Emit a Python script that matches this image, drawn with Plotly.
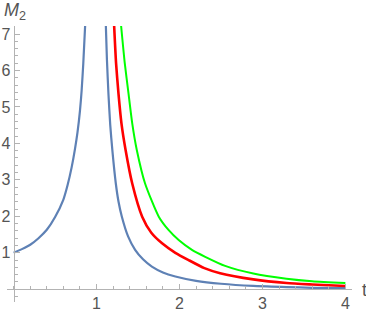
import plotly.graph_objects as go

# values
blue_t = [0.0, 0.1, 0.2, 0.3, 0.4, 0.5, 0.6, 0.65, 0.7, 0.74, 0.77, 0.8, 0.82, 0.84, 0.862, None,
          1.112, 1.125, 1.143, 1.165, 1.19, 1.232, 1.265, 1.305, 1.38, 1.465, 1.56, 1.667, 1.8, 1.95, 2.2, 2.5, 2.89, 3.29, 3.6, 4.0]
blue_m = [1.0, 1.1, 1.22, 1.4, 1.63, 1.98, 2.46, 2.85, 3.35, 3.85, 4.3, 4.9, 5.45, 6.2, 7.22, None,
          7.22, 6.3, 5.37, 4.5, 3.82, 2.9, 2.4, 1.99, 1.45, 1.08, 0.82, 0.62, 0.46, 0.35, 0.23, 0.15, 0.09, 0.06, 0.04, 0.03]

red_t = [1.212, 1.235, 1.264, 1.3, 1.35, 1.43, 1.55, 1.66, 1.79, 1.95, 2.11, 2.3, 2.49, 2.89, 3.29, 3.6, 4.0]
red_m = [7.22, 6.2, 5.37, 4.55, 3.82, 2.9, 1.99, 1.55, 1.26, 1.0, 0.8, 0.58, 0.44, 0.27, 0.17, 0.13, 0.09]

green_t = [1.296, 1.34, 1.385, 1.43, 1.485, 1.585, 1.75, 1.87, 1.99, 2.15, 2.31, 2.55, 2.89, 3.29, 3.6, 4.0]
green_m = [7.22, 6.2, 5.37, 4.55, 3.82, 2.9, 1.99, 1.62, 1.35, 1.08, 0.89, 0.64, 0.43, 0.29, 0.22, 0.17]

x_ticks = [1, 2, 3, 4]
y_ticks = [1, 2, 3, 4, 5, 6, 7]

x_range = [-0.08, 4.08]
y_range = [-0.35, 7.22]

axis_col = "#b3b3b3"
text_col = "#555555"
font = "Liberation Sans"

fig = go.Figure()
for xs, ys, col, w in [(blue_t, blue_m, "#5e81b5", 2.2),
                       (red_t, red_m, "#ff0000", 2.6),
                       (green_t, green_m, "#00ff00", 2.0)]:
    fig.add_trace(go.Scatter(
        x=xs, y=ys, mode="lines",
        line=dict(color=col, width=w, shape="spline", smoothing=0.6),
        connectgaps=False, showlegend=False, hoverinfo="skip"))

fig.update_layout(
    width=366, height=315,
    margin=dict(l=7, r=14, t=26, b=13),
    plot_bgcolor="white", paper_bgcolor="white",
    font=dict(family=font, size=16, color=text_col),
    xaxis=dict(
        range=x_range, showgrid=False, zeroline=False, automargin=False,
        anchor="free", position=-y_range[0] / (y_range[1] - y_range[0]),
        showline=True, linecolor=axis_col, linewidth=1,
        tickvals=x_ticks, ticks="inside", ticklen=5, tickcolor=axis_col,
        minor=dict(dtick=0.2, ticks="inside", ticklen=3, tickcolor=axis_col),
        tickfont=dict(size=16, color=text_col)),
    yaxis=dict(
        range=y_range, showgrid=False, zeroline=False, automargin=False,
        anchor="free", position=-x_range[0] / (x_range[1] - x_range[0]),
        showline=True, linecolor=axis_col, linewidth=1,
        tickvals=y_ticks, ticks="inside", ticklen=5, tickcolor=axis_col,
        minor=dict(dtick=0.2, ticks="inside", ticklen=3, tickcolor=axis_col),
        tickfont=dict(size=16, color=text_col)),
    annotations=[
        dict(x=1.036, y=0.0435, xref="paper", yref="paper", text="t",
             xanchor="center", yanchor="middle",
             showarrow=False, font=dict(size=18, color=text_col)),
        dict(x=-0.015, y=1.054, xref="paper", yref="paper",
             xanchor="left", yanchor="middle",
             text="<i>M</i><sub>2</sub>", showarrow=False,
             font=dict(size=18, color=text_col)),
    ],
)

# the page body has a default 8px margin; remove it so the figure sits at 0,0
fig.write_html("out.html", config={"displayModeBar": False},
               post_script="document.body.style.margin='0';")
